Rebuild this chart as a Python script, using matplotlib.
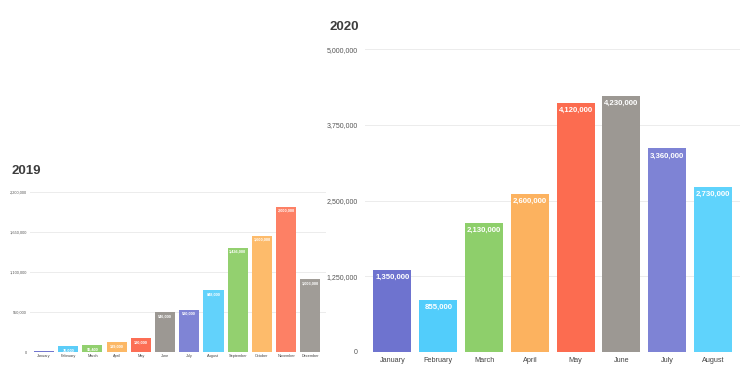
import matplotlib.pyplot as plt
from matplotlib.ticker import FuncFormatter

plt.rcParams['font.family'] = ['Liberation Sans', 'DejaVu Sans']

months_2019 = ["January", "February", "March", "April", "May", "June", "July",
               "August", "September", "October", "November", "December"]
values_2019 = [20000, 76000, 96400, 139000, 190000, 546000, 580000,
               848000, 1436000, 1600000, 2000000, 1003000]

months_2020 = ["January", "February", "March", "April", "May", "June", "July", "August"]
values_2020 = [1350000, 855000, 2130000, 2600000, 4120000, 4230000, 3360000, 2730000]

ticks_2019 = [0, 550000, 1100000, 1650000, 2200000]
ticks_2020 = [0, 1250000, 2500000, 3750000, 5000000]

colors_2019 = ["#7276cf", "#5ccdf8", "#92d06f", "#fcb866", "#fc6e55", "#9c9893",
               "#7f84d5", "#62d2fb", "#93d06f", "#fdbb6b", "#fd8065", "#a09c97"]
colors_2020 = ["#6e73cf", "#52cdfb", "#8ecf6b", "#fcb25f", "#fc6c50", "#9c9893",
               "#7e83d5", "#5fd3fc"]

fmt = FuncFormatter(lambda v, p: f"{int(v):,}")

fig = plt.figure(figsize=(7.4, 3.79), dpi=100)


def draw(ax, cats, vals, cols, ticks, xlim, tick_fs, val_fs, cat_fs, pad, val_off):
    ax.bar(range(len(cats)), vals, width=0.83, color=cols, zorder=2)
    ax.set_ylim(0, ticks[-1])
    ax.set_xlim(*xlim)
    ax.set_yticks(ticks)
    ax.yaxis.set_major_formatter(fmt)
    ax.set_xticks(range(len(cats)))
    ax.set_xticklabels(cats, fontsize=cat_fs, color="#444444")
    ax.tick_params(axis="y", labelsize=tick_fs, colors="#555555", length=0, pad=pad)
    ax.tick_params(axis="x", length=0, pad=pad * 0.8)
    ax.grid(axis="y", color="#ececec", linewidth=0.7, zorder=0)
    for s in ax.spines.values():
        s.set_visible(False)
    for i, v in enumerate(vals):
        # bar too short to hold a label
        if v / ticks[-1] < 0.02:
            continue
        ax.annotate(f"{v:,}", (i, v), xytext=(0, -val_off), textcoords="offset points",
                    ha="center", va="top", fontsize=val_fs, color="white",
                    fontweight="bold")


ax1 = fig.add_axes([30 / 740, 27 / 379, 296 / 740, 160 / 379])
draw(ax1, months_2019, values_2019, colors_2019, ticks_2019, (-0.58, 11.65),
     2.8, 2.8, 2.8, 2, 1.5)

ax2 = fig.add_axes([365 / 740, 27.3 / 379, 375 / 740, 302.4 / 379])
draw(ax2, months_2020, values_2020, colors_2020, ticks_2020, (-0.6, 7.59),
     5.0, 5.6, 5.2, 5, 2.8)

fig.text(11 / 740, 1 - 171 / 379, "2019", fontsize=9.5, fontweight="bold",
         color="#3d3d3d", va="center", ha="left")
fig.text(330 / 740, 1 - 27 / 379, "2020", fontsize=9.5, fontweight="bold",
         color="#3d3d3d", va="center", ha="left")

fig.savefig("out.png", dpi=100, facecolor="white")
